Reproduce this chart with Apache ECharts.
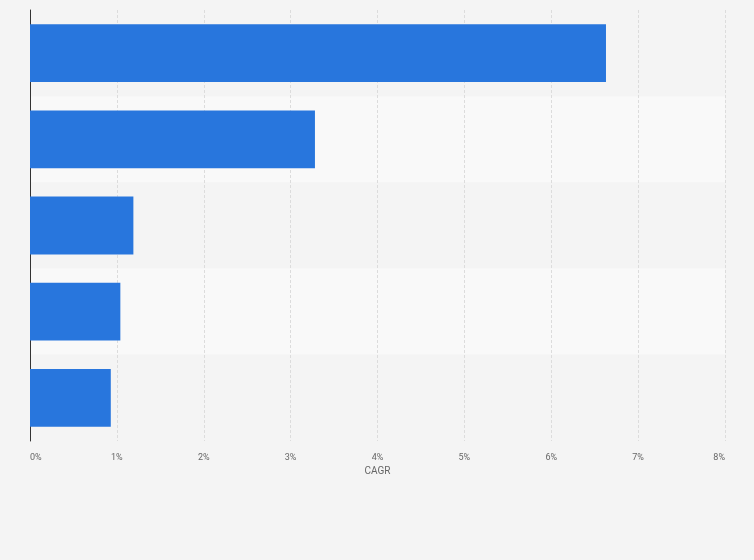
<!DOCTYPE html>
<html>
<head>
<meta charset="utf-8" />
<script src="https://cdn.jsdelivr.net/npm/echarts@6/dist/echarts.min.js"></script>
<style>html,body{margin:0;background:#f4f4f4;}#main{width:754px;height:560px;}</style>
</head>
<body>
<div id="main"></div>
<script>
var categories = ['A', 'B', 'C', 'D', 'E'];
var values = [6.63, 3.28, 1.19, 1.04, 0.93];
var xTicks = [0, 1, 2, 3, 4, 5, 6, 7, 8];

var chart = echarts.init(document.getElementById('main'));
chart.setOption({
    backgroundColor: '#f4f4f4',
    grid: { left: 30, right: 29, top: 10, bottom: 119 },
    xAxis: {
        type: 'value', min: 0, max: 8, interval: 1,
        name: 'CAGR', nameLocation: 'middle', nameGap: 22,
        nameTextStyle: { color: '#666', fontSize: 10, fontFamily: 'Roboto' },
        axisLine: { show: false }, axisTick: { show: false },
        axisLabel: { formatter: '{value}%', color: '#666', fontSize: 9, fontFamily: 'Roboto',
                     alignMinLabel: 'left', alignMaxLabel: 'right', margin: 12 },
        splitLine: { lineStyle: { color: '#dcdcdc', type: [3, 2] } }
    },
    yAxis: {
        type: 'category', data: categories, inverse: true,
        axisLabel: { show: false }, axisTick: { show: false },
        axisLine: { lineStyle: { color: '#333' } },
        splitArea: { show: true, areaStyle: { color: ['#f4f4f4', '#f9f9f9'] } }
    },
    series: [{
        type: 'bar', data: values, barCategoryGap: '33%',
        itemStyle: { color: '#2876dd' }
    }]
});
</script>
</body>
</html>
